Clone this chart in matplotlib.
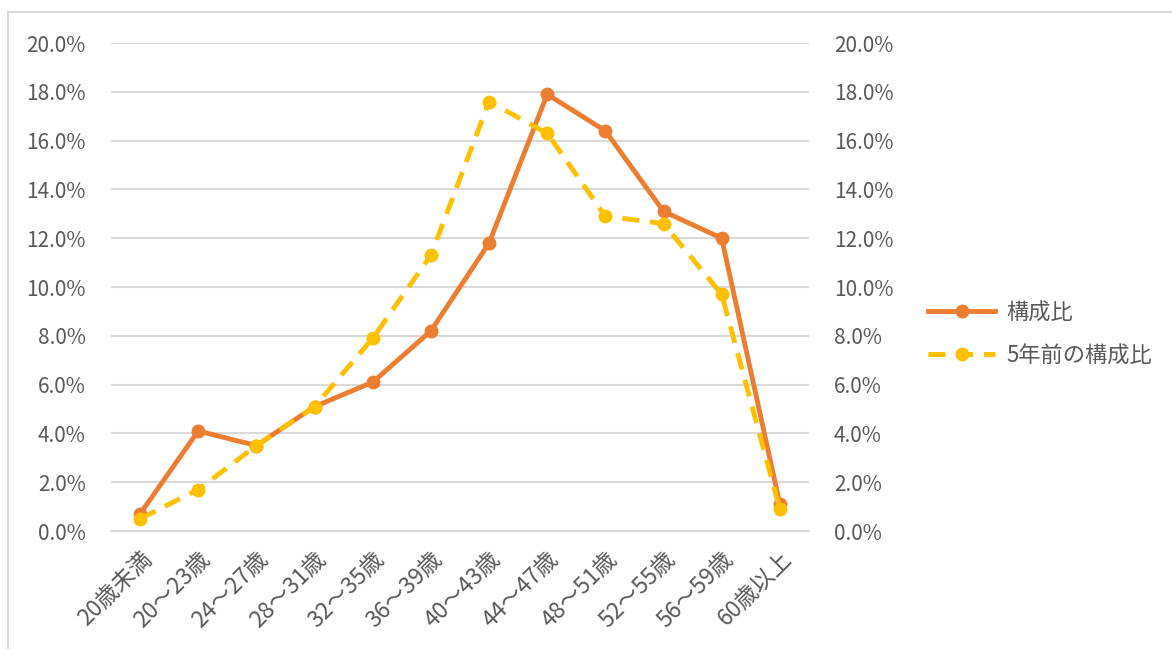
import numpy as np
import matplotlib.pyplot as plt
from matplotlib.patches import Rectangle
from matplotlib.ticker import PercentFormatter

plt.rcParams['font.family'] = ['Noto Sans CJK JP', 'DejaVu Sans']

# データ
categories = ['20歳未満', '20～23歳', '24～27歳', '28～31歳', '32～35歳', '36～39歳',
              '40～43歳', '44～47歳', '48～51歳', '52～55歳', '56～59歳', '60歳以上']
ratio_now = [0.7, 4.1, 3.5, 5.1, 6.1, 8.2, 11.8, 17.9, 16.4, 13.1, 12.0, 1.1]
ratio_5y = [0.5, 1.7, 3.5, 5.1, 7.9, 11.3, 17.6, 16.3, 12.9, 12.6, 9.7, 0.9]

orange = '#ED7D31'
yellow = '#FFC000'
gray = '#595959'

fig = plt.figure(figsize=(11.72, 6.49), dpi=100)
ax = fig.add_axes([0.0947, 0.1818, 0.5955, 0.7519])
ax2 = ax.twinx()

x = np.arange(len(categories))
l1, = ax.plot(x, ratio_now, color=orange, lw=3.5, marker='o', ms=9, label='構成比')
l2, = ax2.plot(x, ratio_5y, color=yellow, lw=3.5, ls=(0, (3.5, 2.2)), marker='o', ms=9,
               label='5年前の構成比')

for a in (ax, ax2):
    a.set_ylim(0, 20)
    a.set_yticks(np.arange(0, 20.1, 2))
    a.yaxis.set_major_formatter(PercentFormatter(decimals=1))
    a.tick_params(axis='y', length=0, labelsize=15, labelcolor=gray, pad=18)
    for s in a.spines.values():
        s.set_visible(False)
ax.set_xlim(-0.5, len(categories) - 0.5)
ax.grid(axis='y', color='#D9D9D9', lw=1.5)
ax.set_axisbelow(True)
ax.set_xticks(x)
ax.set_xticklabels(categories, rotation=45, ha='right', rotation_mode='anchor',
                   fontsize=16.5, color=gray)
ax.tick_params(axis='x', length=0, pad=12)
ax.spines['bottom'].set_visible(True)
ax.spines['bottom'].set_color('#D9D9D9')
ax.spines['bottom'].set_linewidth(1.5)

fig.legend(handles=[l1, l2], loc='center left', bbox_to_anchor=(0.775, 0.485),
           frameon=False, fontsize=16, labelcolor=gray, handlelength=3.0,
           handletextpad=0.5, labelspacing=0.9)

# 外枠
fig.patches.append(Rectangle((8 / 1172, -0.05), 1.1, 1 - 12 / 649 + 0.05,
                             transform=fig.transFigure, fill=False,
                             edgecolor='#D9D9D9', lw=1.5))

fig.savefig('out.png', dpi=100)
